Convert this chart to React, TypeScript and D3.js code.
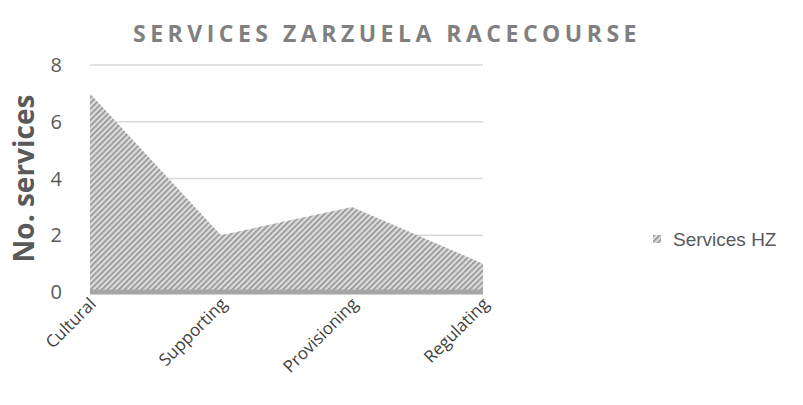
import React, { useEffect, useRef } from 'react';
import * as d3 from 'd3';

// chart data
const categories = ['Cultural', 'Supporting', 'Provisioning', 'Regulating'];
const servicesHZ = [7, 2, 3, 1];
const yTicks = [0, 2, 4, 6, 8];
const seriesName = 'Services HZ';
const chartTitle = 'SERVICES ZARZUELA RACECOURSE';
const yTitle = 'No. services';

const App = () => {
  const svgRef = useRef<SVGSVGElement | null>(null);
  const width = 803;
  const height = 405;

  useEffect(() => {
    if (!svgRef.current) return;
    const svg = d3.select(svgRef.current);
    svg.selectAll('*').remove();

    const left = 90;
    const right = 483;
    const top = 65;
    const bottom = 292;

    const x = d3.scalePoint<string>().domain(categories).range([left, right]);
    const y = d3.scaleLinear().domain([0, 8]).range([bottom, top]);

    // hatch pattern
    const defs = svg.append('defs');
    const pat = defs.append('pattern')
      .attr('id', 'hatch')
      .attr('patternUnits', 'userSpaceOnUse')
      .attr('width', 4)
      .attr('height', 4)
      .attr('patternTransform', 'rotate(45)');
    pat.append('rect').attr('width', 4).attr('height', 4).attr('fill', '#dcdcdc');
    pat.append('rect').attr('x', 0).attr('width', 1.6).attr('height', 4).attr('fill', '#929292');

    // title
    svg.append('text')
      .attr('x', 387)
      .attr('y', 42)
      .attr('text-anchor', 'middle')
      .attr('font-family', '"Open Sans", sans-serif')
      .attr('font-weight', 'bold')
      .attr('font-size', 23)
      .attr('letter-spacing', 4.5)
      .attr('fill', '#808080')
      .text(chartTitle);

    // gridlines
    svg.append('g')
      .selectAll('line')
      .data(yTicks.filter(d => d > 0))
      .join('line')
      .attr('x1', left)
      .attr('x2', right)
      .attr('y1', d => y(d))
      .attr('y2', d => y(d))
      .attr('stroke', '#d9d9d9')
      .attr('stroke-width', 1.5);

    // y tick labels
    svg.append('g')
      .selectAll('text')
      .data(yTicks)
      .join('text')
      .attr('x', 62)
      .attr('y', d => y(d))
      .attr('dy', '0.35em')
      .attr('text-anchor', 'end')
      .attr('font-family', '"Open Sans", sans-serif')
      .attr('font-size', 20)
      .attr('fill', '#595959')
      .text(d => d);

    // y title
    svg.append('text')
      .attr('transform', `translate(34, ${(top + bottom) / 2}) rotate(-90)`)
      .attr('text-anchor', 'middle')
      .attr('font-family', '"Open Sans", sans-serif')
      .attr('font-weight', 'bold')
      .attr('font-size', 28)
      .attr('fill', '#595959')
      .text(yTitle);

    // area
    const area = d3.area<number>()
      .x((d, i) => x(categories[i]) as number)
      .y0(y(0))
      .y1(d => y(d));

    svg.append('path')
      .datum(servicesHZ)
      .attr('d', area)
      .attr('fill', 'url(#hatch)');

    // x axis line
    svg.append('line')
      .attr('x1', left)
      .attr('x2', right)
      .attr('y1', y(0))
      .attr('y2', y(0))
      .attr('stroke', '#a6a6a6')
      .attr('stroke-width', 5);

    // x labels
    svg.append('g')
      .selectAll('text')
      .data(categories)
      .join('text')
      .attr('transform', d => `translate(${(x(d) as number) + 7}, 305) rotate(-45)`)
      .attr('text-anchor', 'end')
      .attr('font-family', '"Open Sans", sans-serif')
      .attr('font-size', 17)
      .attr('fill', '#404040')
      .text(d => d);

    // legend
    svg.append('rect')
      .attr('x', 653)
      .attr('y', 235)
      .attr('width', 8)
      .attr('height', 8)
      .attr('fill', 'url(#hatch)');

    svg.append('text')
      .attr('x', 673)
      .attr('y', 239)
      .attr('dy', '0.35em')
      .attr('font-family', '"Liberation Sans", Arial, sans-serif')
      .attr('font-size', 19)
      .attr('fill', '#595959')
      .text(seriesName);
  }, []);

  return (
    <div style={{ position: 'absolute', left: 0, top: 0, width: `${width}px`, height: `${height}px`, background: '#fff' }}>
      <svg ref={svgRef} width={width} height={height}></svg>
    </div>
  );
};

export default App;
